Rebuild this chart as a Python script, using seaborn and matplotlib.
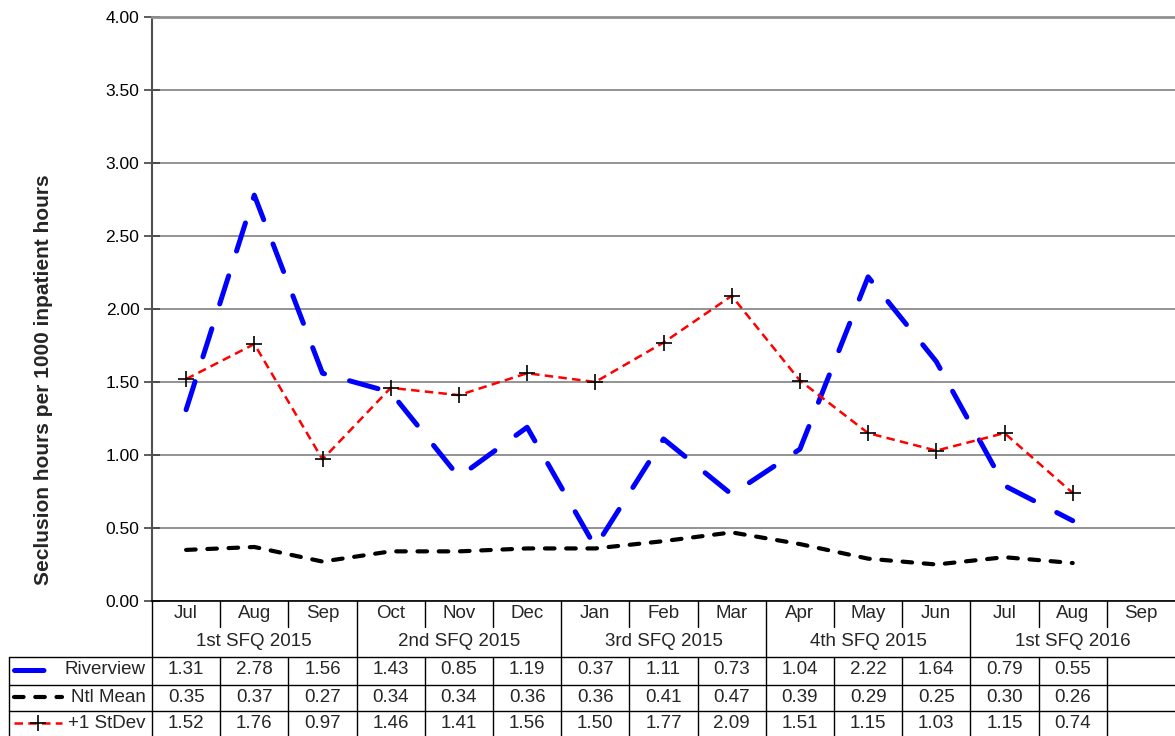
import matplotlib
matplotlib.use("Agg")
import numpy as np
import pandas as pd
import matplotlib.pyplot as plt
import matplotlib.transforms as mtransforms
from matplotlib.lines import Line2D
import seaborn as sns

# ---- data -------------------------------------------------------------
months = ["Jul", "Aug", "Sep", "Oct", "Nov", "Dec", "Jan", "Feb", "Mar",
          "Apr", "May", "Jun", "Jul", "Aug", "Sep"]
quarters = ["1st SFQ 2015", "2nd SFQ 2015", "3rd SFQ 2015",
            "4th SFQ 2015", "1st SFQ 2016"]
riverview = [1.31, 2.78, 1.56, 1.43, 0.85, 1.19, 0.37, 1.11, 0.73,
             1.04, 2.22, 1.64, 0.79, 0.55, np.nan]
ntl_mean = [0.35, 0.37, 0.27, 0.34, 0.34, 0.36, 0.36, 0.41, 0.47,
            0.39, 0.29, 0.25, 0.30, 0.26, np.nan]
stdev_plus1 = [1.52, 1.76, 0.97, 1.46, 1.41, 1.56, 1.50, 1.77, 2.09,
               1.51, 1.15, 1.03, 1.15, 0.74, np.nan]
series_names = ["Riverview", "Ntl Mean", "+1 StDev"]
y_ticks = [0.0, 0.5, 1.0, 1.5, 2.0, 2.5, 3.0, 3.5, 4.0]
y_label = "Seclusion hours per 1000 inpatient hours"

# ---- styling ----------------------------------------------------------
sns.set_theme(style="white")
plt.rcParams["font.family"] = ["Liberation Sans", "DejaVu Sans"]

W, H = 1175, 736
FS_TICK = 12.5
FS_TABLE = 13.5
styles = {
    "Riverview": dict(color="#0000FF", lw=3.6, linestyle=(0, (5.9, 5.2)),
                      dash_capstyle="round", solid_capstyle="round"),
    "Ntl Mean": dict(color="#000000", lw=3.0, linestyle=(0, (2.3, 2.8)),
                     dash_capstyle="round", solid_capstyle="round"),
    "+1 StDev": dict(color="#FF0000", lw=1.8, linestyle=(0, (3.4, 2.1)),
                     dash_capstyle="butt"),
}
marker_style = dict(marker="+", markersize=12, markeredgecolor="black",
                    markeredgewidth=1.2)

fig = plt.figure(figsize=(W / 100, H / 100), dpi=100)
ax = fig.add_axes([152 / W, 1 - 601 / H, (1175 - 152) / W, (601 - 17) / H])

idx = np.arange(len(months))
values = {"Riverview": riverview, "Ntl Mean": ntl_mean, "+1 StDev": stdev_plus1}
for name in series_names:
    df = pd.DataFrame({"x": idx, "y": values[name]}).dropna()
    kw = dict(styles[name])
    if name == "+1 StDev":
        kw.update(marker_style)
    sns.lineplot(data=df, x="x", y="y", ax=ax, estimator=None, sort=False,
                 errorbar=None, legend=False, zorder=3, **kw)

ax.set_xlim(-0.5, len(months) - 0.5)
ax.set_ylim(0, 4)
ax.set_xticks([])
ax.set_yticks(y_ticks)
ax.set_yticklabels([f"{t:.2f}" for t in y_ticks], fontsize=FS_TICK)
ax.set_xlabel("")
ax.set_ylabel(y_label, fontsize=15, fontweight="bold")
ax.yaxis.set_label_coords((53 - 152) / (1175 - 152), (601 - 380) / (601 - 17))
ax.tick_params(axis="y", direction="inout", length=11, width=1.2,
               color="#404040", left=True, pad=3.5, labelcolor="black")
ax.yaxis.grid(True, color="#808080", lw=1.2)
ax.set_axisbelow(True)
ax.spines["right"].set_visible(False)
ax.spines["top"].set_color("#909090")
ax.spines["top"].set_linewidth(2)
ax.spines["left"].set_color("#505050")
ax.spines["left"].set_linewidth(1.5)
ax.spines["bottom"].set_color("#000000")
ax.spines["bottom"].set_linewidth(1.2)

# ---- data table under the plot -----------------------------------------
tx = mtransforms.blended_transform_factory(ax.transData, fig.transFigure)
tf = fig.transFigure


def fy(py):
    return 1 - py / H


def fx(px):
    return px / W


def vline(xd, y0, y1):
    fig.add_artist(Line2D([xd, xd], [fy(y0), fy(y1)], transform=tx,
                          color="black", lw=1.0))


row_month, row_quarter = 614, 641
row_tops = [657, 685, 711]
row_centers = [670, 697, 723]

# column separators
for b in range(len(months)):
    xd = b - 0.5
    if b % 3 == 0:
        vline(xd, 601, 736)
    else:
        vline(xd, 601, 627)
        vline(xd, row_tops[0], 736)

# horizontal rules of the series rows
for py in row_tops:
    fig.add_artist(Line2D([fx(9), 1], [fy(py), fy(py)], transform=tf,
                          color="black", lw=1.0))
fig.add_artist(Line2D([fx(9), fx(9)], [fy(row_tops[0]), fy(736)],
                      transform=tf, color="black", lw=1.0))

# month and quarter headers
for i, m in enumerate(months):
    fig.text(i, fy(row_month), m, transform=tx, fontsize=FS_TABLE,
             ha="center", va="center")
for q, label in enumerate(quarters):
    fig.text(q * 3 + 1, fy(row_quarter), label, transform=tx,
             fontsize=FS_TABLE, ha="center", va="center")

# series rows: legend key, name and values
for r, name in enumerate(series_names):
    yc = fy(row_centers[r])
    key_end = 53 if name == "Riverview" else 62
    fig.add_artist(Line2D([fx(14), fx(key_end)], [yc, yc], transform=tf,
                          **styles[name]))
    if name == "+1 StDev":
        fig.add_artist(Line2D([fx(38)], [yc], transform=tf, linestyle="none",
                              **marker_style))
    fig.text(fx(146), yc, name, transform=tf, fontsize=FS_TABLE, ha="right",
             va="center")
    for i, v in enumerate(values[name]):
        if not np.isnan(v):
            fig.text(i, yc, f"{v:.2f}", transform=tx, fontsize=FS_TABLE,
                     ha="center", va="center")

fig.savefig("out.png", dpi=100)
